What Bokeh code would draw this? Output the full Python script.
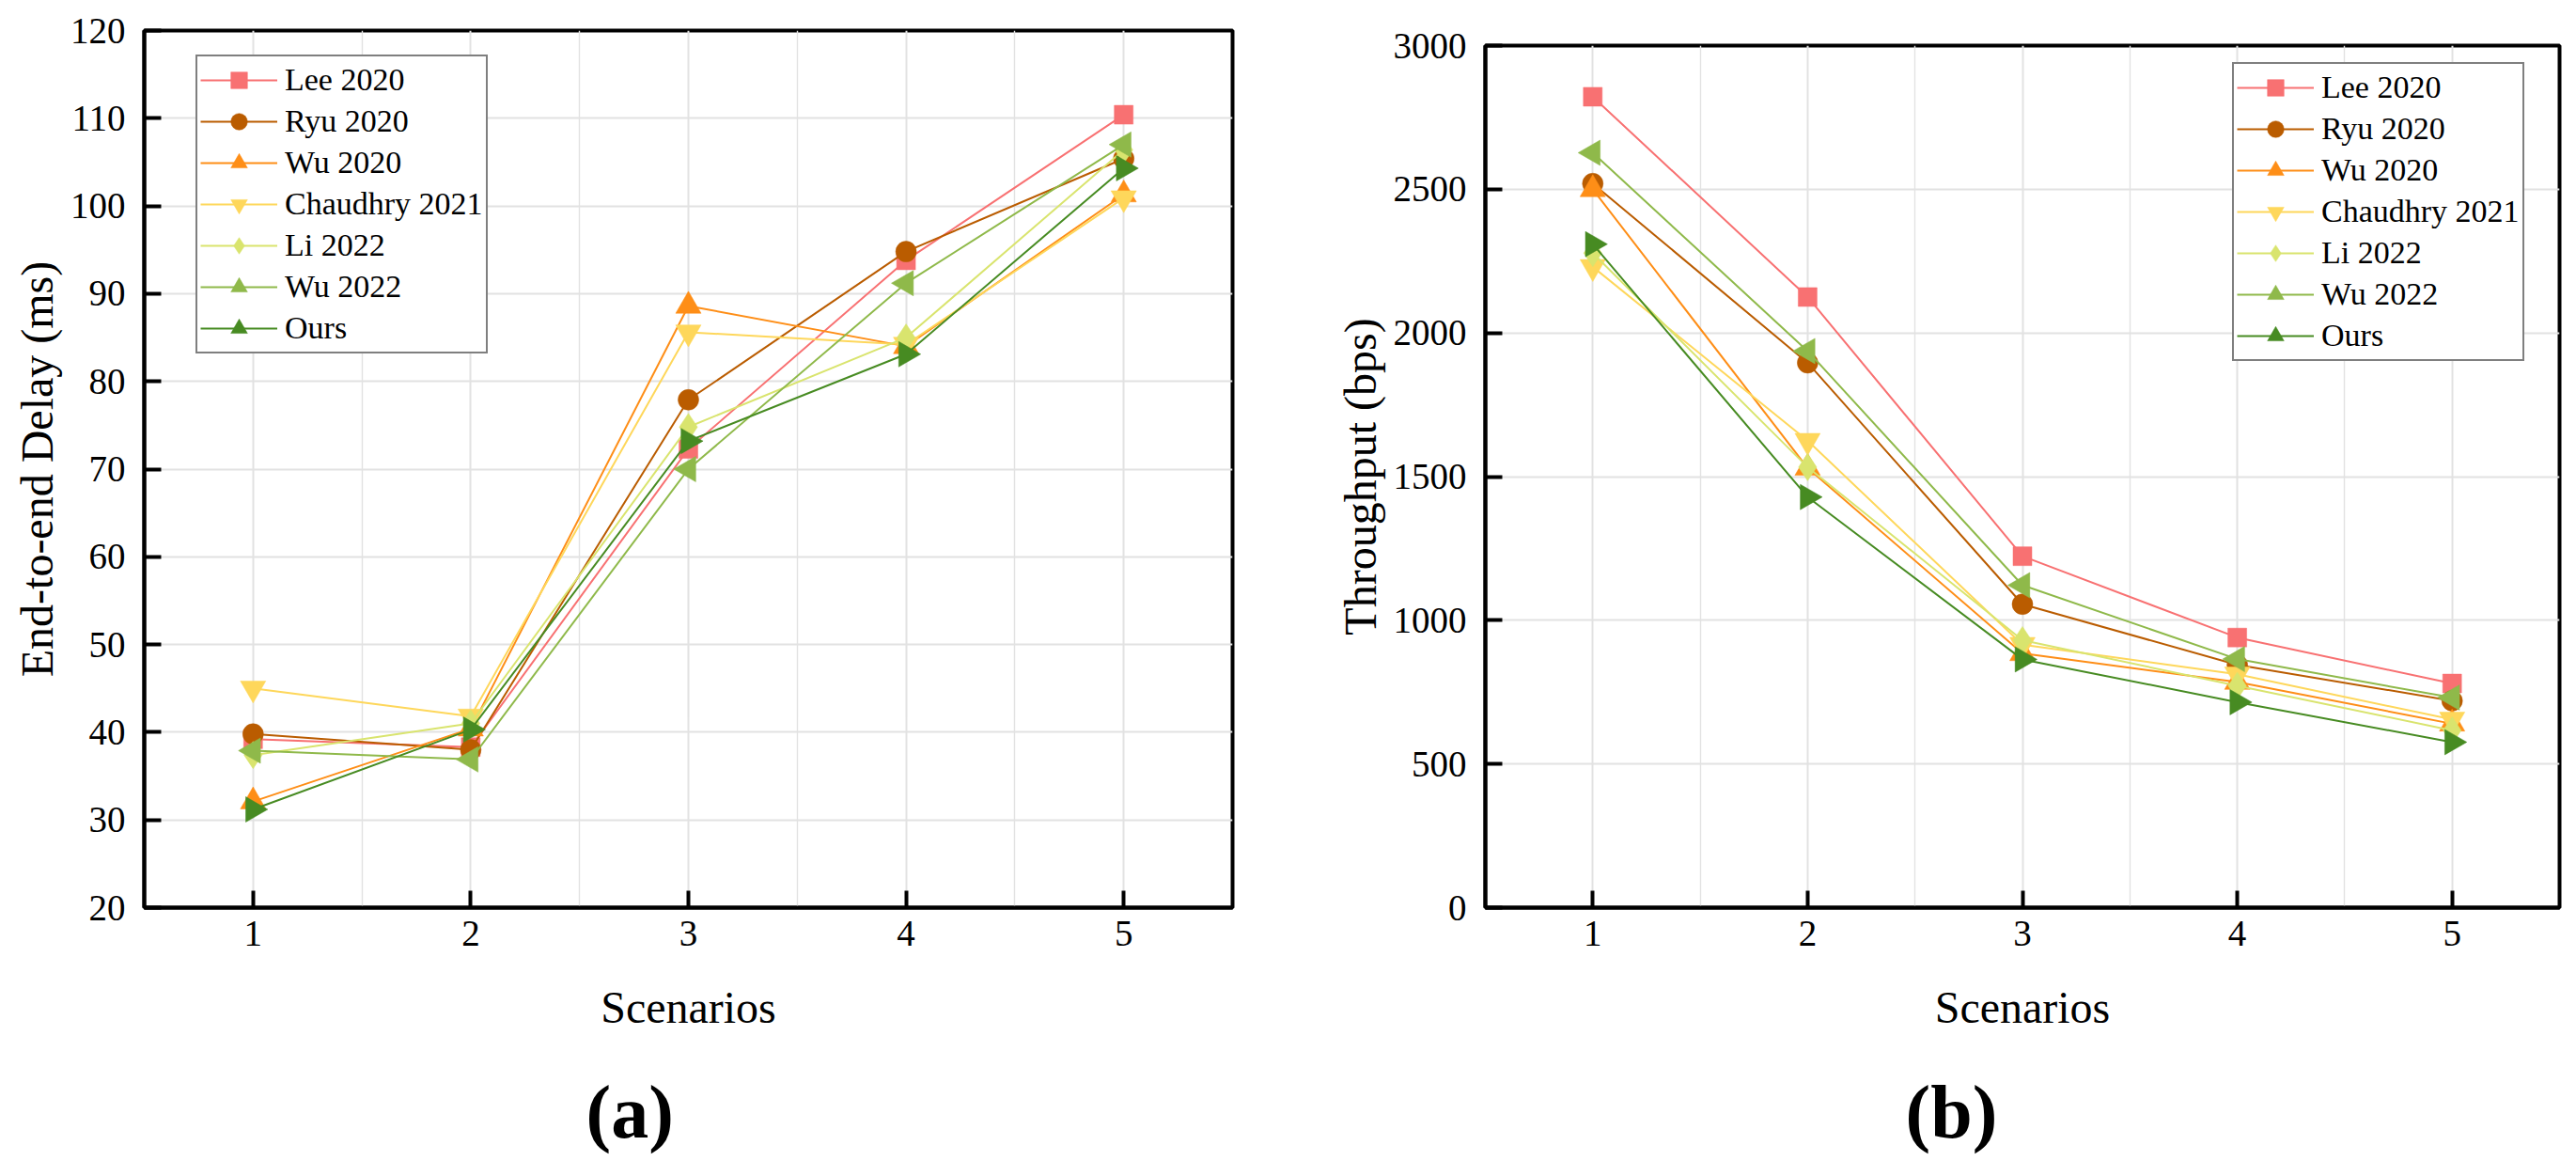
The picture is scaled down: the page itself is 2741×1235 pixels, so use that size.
from bokeh.plotting import figure
from bokeh.layouts import row, column
from bokeh.models import (Range1d, FixedTicker, Legend, LegendItem, Title, Spacer,
                          LinearAxis)
from bokeh.embed import file_html
from bokeh.resources import INLINE
import math

# ---------------- data ----------------
scenarios = [1, 2, 3, 4, 5]
series_names = ["Lee 2020", "Ryu 2020", "Wu 2020", "Chaudhry 2021", "Li 2022", "Wu 2022", "Ours"]

delay_lee = [39.2, 38.3, 72.3, 93.8, 110.4]
delay_ryu = [39.8, 38.0, 77.9, 94.8, 105.4]
delay_wu2020 = [32.1, 40.4, 88.6, 84.0, 101.3]
delay_chaudhry = [45.0, 41.8, 85.6, 84.2, 100.9]
delay_li = [37.4, 41.0, 74.8, 85.0, 106.4]
delay_wu2022 = [37.9, 36.9, 70.0, 91.2, 107.0]
delay_ours = [31.2, 40.3, 73.2, 83.1, 104.3]

thr_lee = [2822, 2125, 1223, 940, 780]
thr_ryu = [2520, 1896, 1056, 845, 720]
thr_wu2020 = [2500, 1530, 885, 785, 640]
thr_chaudhry = [2230, 1625, 915, 812, 655]
thr_li = [2278, 1533, 931, 772, 617]
thr_wu2022 = [2627, 1937, 1122, 865, 731]
thr_ours = [2309, 1429, 864, 715, 576]

delay_ticks = [20, 30, 40, 50, 60, 70, 80, 90, 100, 110, 120]
thr_ticks = [0, 500, 1000, 1500, 2000, 2500, 3000]

delay_series = [delay_lee, delay_ryu, delay_wu2020, delay_chaudhry, delay_li, delay_wu2022, delay_ours]
thr_series = [thr_lee, thr_ryu, thr_wu2020, thr_chaudhry, thr_li, thr_wu2022, thr_ours]

# ---------------- styles ----------------
colors = ["#F87172", "#BA5C00", "#FE8E17", "#FED75B", "#D9E46E", "#8FB94A", "#478B22"]
marker_styles = [
    ("square", 20, 0.0),
    ("circle", 22, 0.0),
    ("triangle", 27, 0.0),
    ("inverted_triangle", 27, 0.0),
    ("diamond", 29, 0.0),
    ("triangle", 27, math.pi / 2),
    ("triangle", 27, -math.pi / 2),
]

FONT = "Liberation Serif"
GRID = "#E2E2E2"


def make_plot(values, ylo, yhi, yticks, ylabel, fw, fh, borders,
              legend_loc, caption, cap_offset):
    bl, br, bt, bb = borders
    p = figure(frame_width=fw, frame_height=fh, x_range=Range1d(0.5, 5.5),
               y_range=Range1d(ylo, yhi), output_backend="svg",
               toolbar_location=None, title=None,
               min_border_left=bl, min_border_right=br,
               min_border_top=bt, min_border_bottom=bb)
    p.background_fill_color = "white"
    p.border_fill_color = "white"
    p.outline_line_color = "black"
    p.outline_line_width = 4

    p.xaxis.ticker = FixedTicker(ticks=scenarios, minor_ticks=[1.5, 2.5, 3.5, 4.5])
    p.yaxis.ticker = FixedTicker(ticks=yticks)
    for ax in (p.xaxis, p.yaxis):
        ax.axis_line_width = 4
        ax.axis_line_color = "black"
        ax.major_tick_in = 18
        ax.major_tick_out = 0
        ax.major_tick_line_width = 4
        ax.major_tick_line_color = "black"
        ax.minor_tick_line_color = None
        ax.major_label_text_font = FONT
        ax.major_label_text_font_size = "39px"
        ax.major_label_text_color = "black"
        ax.axis_label_text_font = FONT
        ax.axis_label_text_font_size = "48px"
        ax.axis_label_text_font_style = "normal"
        ax.axis_label_text_color = "black"
    p.xaxis.axis_label = "Scenarios"
    p.yaxis.axis_label = ylabel
    p.xaxis.major_label_standoff = 10
    p.xaxis.axis_label_standoff = 36
    p.yaxis.major_label_standoff = 20
    p.yaxis.axis_label_standoff = 6

    p.xgrid.ticker = FixedTicker(ticks=scenarios, minor_ticks=[1.5, 2.5, 3.5, 4.5])
    p.xgrid.grid_line_color = GRID
    p.xgrid.grid_line_width = 2
    p.xgrid.minor_grid_line_color = GRID
    p.xgrid.minor_grid_line_width = 1.4
    p.ygrid.ticker = FixedTicker(ticks=yticks)
    p.ygrid.grid_line_color = GRID
    p.ygrid.grid_line_width = 2

    items = []
    for name, vals, col, (mk, sz, ang) in zip(series_names, values, colors, marker_styles):
        lr = p.line(scenarios, vals, line_color=col, line_width=2)
        sr = p.scatter(scenarios, vals, marker=mk, size=sz, angle=ang,
                       fill_color=col, line_color=col, line_width=0.5)
        items.append(LegendItem(label=name, renderers=[lr, sr]))

    legend = Legend(items=items, location=legend_loc)
    legend.label_text_font = FONT
    legend.label_text_font_size = "34px"
    legend.label_text_color = "black"
    legend.glyph_width = 82
    legend.glyph_height = 44
    legend.label_height = 44
    legend.label_standoff = 8
    legend.padding = 3
    legend.margin = 0
    legend.spacing = 0
    legend.border_line_color = "black"
    legend.border_line_width = 2
    legend.background_fill_color = "white"
    legend.background_fill_alpha = 1.0
    p.add_layout(legend)

    # empty axis used only as vertical space between x label and caption
    gap = LinearAxis(ticker=FixedTicker(ticks=[]), axis_line_color=None,
                     major_tick_line_color=None, minor_tick_line_color=None,
                     major_tick_in=0, major_tick_out=0, major_label_standoff=0,
                     axis_label=" ", axis_label_standoff=8,
                     axis_label_text_font=FONT, axis_label_text_font_size="20px")
    p.add_layout(gap, "below")

    cap = Title(text="(" + caption + ")", align="left", offset=cap_offset,
                standoff=6, text_font=FONT, text_font_size="80px",
                text_font_style="bold", text_color="black")
    p.add_layout(cap, "below")
    return p


p1 = make_plot(delay_series, 20, 120, delay_ticks, "End-to-end Delay (ms)",
               1158, 933, (153, 67, 32, 268), (55, 589), "a", 470)
p2 = make_plot(thr_series, 0, 3000, thr_ticks, "Throughput (bps)",
               1143, 917, (202, 10, 32, 268), (795, 581), "b", 447)

layout = row(p1, column(Spacer(width=1355, height=16), p2))
open("out.html", "w").write(file_html(layout, INLINE))
